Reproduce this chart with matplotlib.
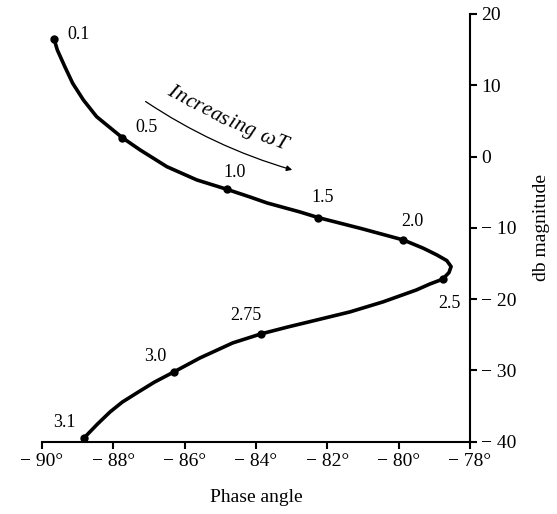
import numpy as np
import matplotlib.pyplot as plt
from matplotlib.patches import FancyArrowPatch
from matplotlib.font_manager import FontProperties
from matplotlib.transforms import IdentityTransform

plt.rcParams['font.family'] = ['Liberation Serif', 'DejaVu Serif']

# omega*T labelled points (phase deg, magnitude db)
wt_labels = ['0.1', '0.5', '1.0', '1.5', '2.0', '2.5', '2.75', '3.0', '3.1']
phase_pts = [-89.66, -87.75, -84.82, -82.25, -79.87, -78.77, -83.86, -86.30, -88.81]
db_pts = [16.45, 2.65, -4.59, -8.57, -11.70, -17.21, -24.88, -30.21, -39.42]
# label offsets in pixels
label_dx = [24, 24, 8, 4, 9, 7, -15, -19, -20]
label_dy = [5, 10, 17, 20, 18, -24, 18, 15, 15]

# curve
curve_phase = [-89.66, -89.57, -89.36, -89.14, -88.84, -88.47, -87.75, -87.25,
               -86.50, -85.66, -84.82, -84.17, -83.69, -82.77, -82.25, -81.05,
               -79.87, -79.31, -78.93, -78.65, -78.53, -78.59, -78.77, -79.12,
               -79.50, -80.44, -81.37, -82.29, -83.10, -83.86, -84.65, -85.57,
               -86.30, -86.85, -87.34, -87.75, -88.09, -88.45, -88.81]
curve_db = [16.45, 14.95, 12.61, 10.28, 7.94, 5.60, 2.65, 0.93,
            -1.42, -3.28, -4.59, -5.67, -6.51, -7.77, -8.57, -10.10,
            -11.70, -12.86, -13.80, -14.60, -15.44, -16.28, -17.21, -17.87,
            -18.71, -20.39, -21.80, -22.92, -23.90, -24.88, -26.14, -28.25,
            -30.21, -31.65, -33.16, -34.45, -35.82, -37.55, -39.42]

xticks = [-90, -88, -86, -84, -82, -80, -78]
xticklabels = ['\u2212 90\u00b0', '\u2212 88\u00b0', '\u2212 86\u00b0', '\u2212 84\u00b0',
               '\u2212 82\u00b0', '\u2212 80\u00b0', '\u2212 78\u00b0']
yticks = [20, 10, 0, -10, -20, -30, -40]
yticklabels = ['20', '10', '0', '\u2212 10', '\u2212 20', '\u2212 30', '\u2212 40']

W, H = 557, 514
fig = plt.figure(figsize=(W / 100, H / 100), dpi=100)
ax = fig.add_axes([0.0754, 0.1407, 0.7684, 0.8321])

ax.plot(curve_phase, curve_db, color='black', lw=2.6,
        solid_capstyle='round', solid_joinstyle='round')
ax.plot(phase_pts, db_pts, 'o', color='black', ms=5)

for lab, x, y, dx, dy in zip(wt_labels, phase_pts, db_pts, label_dx, label_dy):
    ax.annotate(lab, (x, y), xytext=(dx, dy), textcoords='offset pixels',
                ha='center', va='center', fontsize=13)

# direction arrow
arr = FancyArrowPatch((-87.16, 7.94), (-82.91, -1.98), connectionstyle='arc3,rad=0.08',
                      arrowstyle='-|>', mutation_scale=8, lw=0.9, color='black')
ax.add_patch(arr)

# "Increasing wT" bent along the arrow (pixel positions, top-left origin)
def curved_text(s, p0, p1, p2, size):
    fp = FontProperties(family='Liberation Serif', style='italic', size=size)
    rend = fig.canvas.get_renderer()

    def width(t):
        if not t.strip():
            return size * 100 / 72 * 0.25
        return rend.get_text_width_height_descent(t, fp, ismath=False)[0]

    t = np.linspace(0, 1, 400)
    P = [np.array(p, float) for p in (p0, p1, p2)]
    pts = np.outer((1 - t) ** 2, P[0]) + np.outer(2 * t * (1 - t), P[1]) + np.outer(t ** 2, P[2])
    seg = np.hypot(*np.diff(pts, axis=0).T)
    arc = np.concatenate([[0], np.cumsum(seg)])
    total = width(s) * 1.06
    start = arc[-1] / 2 - total / 2
    for i, ch in enumerate(s):
        if ch == ' ':
            continue
        c = start + (width(s[:i + 1]) - width(ch) / 2) * 1.06
        k = min(np.searchsorted(arc, c), len(t) - 2)
        (x0, y0), (x1, y1) = pts[k], pts[k + 1]
        ang = -np.degrees(np.arctan2(y1 - y0, x1 - x0))
        fig.text(x0, H - y0, ch, transform=IdentityTransform(), fontproperties=fp,
                 rotation=ang, rotation_mode='anchor', ha='center', va='center')

curved_text('Increasing \u03c9T', (163, 87), (220, 121), (292, 148), 15.5)

ax.set_xlim(-90, -78)
ax.set_ylim(-40, 20)
ax.spines['top'].set_visible(False)
ax.spines['left'].set_visible(False)
ax.spines['bottom'].set_linewidth(1.5)
ax.spines['right'].set_linewidth(1.5)
ax.yaxis.tick_right()
ax.yaxis.set_label_position('right')
ax.set_xticks(xticks)
ax.set_xticklabels(xticklabels, fontsize=14)
ax.set_yticks(yticks)
ax.set_yticklabels(yticklabels, fontsize=14)
ax.tick_params(direction='out', length=5, width=1.5, pad=3)
ax.set_xlabel('Phase angle', fontsize=14, labelpad=14)
ax.set_ylabel('db magnitude', fontsize=14, labelpad=12)

fig.savefig('out.png', dpi=100)
